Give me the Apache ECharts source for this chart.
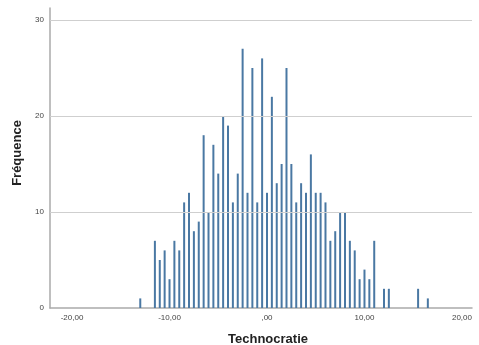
<!DOCTYPE html>
<html>
<head>
<meta charset="utf-8">
<script src="https://cdn.jsdelivr.net/npm/echarts@6/dist/echarts.min.js"></script>
<style>
  html, body { margin: 0; padding: 0; background: #fff; }
  #chart { width: 479px; height: 345px; }
</style>
</head>
<body>
<div id="chart"></div>
<script>
// scores (bin centres) and how many respondents fall in each
var scores = [-13, -11.5, -11, -10.5, -10, -9.5, -9, -8.5, -8, -7.5, -7, -6.5, -6, -5.5, -5, -4.5, -4, -3.5, -3,
  -2.5, -2, -1.5, -1, -0.5, 0, 0.5, 1, 1.5, 2, 2.5, 3, 3.5, 4, 4.5, 5, 5.5, 6, 6.5, 7, 7.5, 8, 8.5, 9, 9.5,
  10, 10.5, 11, 12, 12.5, 15.5, 16.5];
var counts = [1, 7, 5, 6, 3, 7, 6, 11, 12, 8, 9, 18, 10, 17, 14, 20, 19, 11, 14,
  27, 12, 25, 11, 26, 12, 22, 13, 15, 25, 15, 11, 13, 12, 16, 12, 12, 11, 7, 8, 10, 10, 7, 6, 3,
  4, 3, 7, 2, 2, 2, 1];
var xTicks = [-20, -10, 0, 10, 20];
var yTicks = [0, 10, 20, 30];

var chart = echarts.init(document.getElementById('chart'));

var pts = [];
for (var i = 0; i < scores.length; i++) {
  pts.push([scores[i], counts[i]]);
}

var labelFont = { color: '#444', fontSize: 8, fontFamily: 'Liberation Sans, Arial, sans-serif' };
var titleFont = { color: '#222', fontSize: 13, fontWeight: 'bold', fontFamily: 'Liberation Sans, Arial, sans-serif' };

chart.setOption({
  animation: false,
  grid: { left: 50, right: 7, top: 8, bottom: 37, outerBoundsMode: 'none', containLabel: false },
  xAxis: {
    type: 'value',
    min: -22.26,
    max: 21.03,
    name: 'Technocratie',
    nameLocation: 'middle',
    nameGap: 25,
    nameTextStyle: Object.assign({ padding: [0, 0, 0, 14] }, titleFont),
    axisLine: { show: true, onZero: false, lineStyle: { color: '#aaaaaa', width: 1.5 } },
    axisTick: { show: false, customValues: xTicks },
    splitLine: { show: false },
    axisLabel: Object.assign({
      customValues: xTicks,
      margin: 6,
      formatter: function (v) {
        if (v === 0) return ',00';
        return v.toFixed(2).replace('.', ',');
      }
    }, labelFont)
  },
  yAxis: {
    type: 'value',
    min: 0,
    max: 31.25,
    name: 'Fréquence',
    nameLocation: 'middle',
    nameGap: 24,
    nameTextStyle: Object.assign({ padding: [0, 0, 0, 10] }, titleFont),
    axisLine: { show: true, onZero: false, lineStyle: { color: '#aaaaaa', width: 1.5 } },
    axisTick: { show: false, customValues: yTicks },
    splitLine: { show: false },
    axisLabel: Object.assign({ customValues: yTicks, margin: 6 }, labelFont)
  },
  series: [{
    type: 'bar',
    data: pts,
    barWidth: 2,
    itemStyle: { color: '#4a78a3' },
    markLine: {
      silent: true,
      symbol: 'none',
      label: { show: false },
      lineStyle: { color: '#cfcfcf', width: 1, type: 'solid' },
      data: [{ yAxis: 10 }, { yAxis: 20 }, { yAxis: 30 }]
    },
    z: 3
  }]
});
</script>
</body>
</html>
